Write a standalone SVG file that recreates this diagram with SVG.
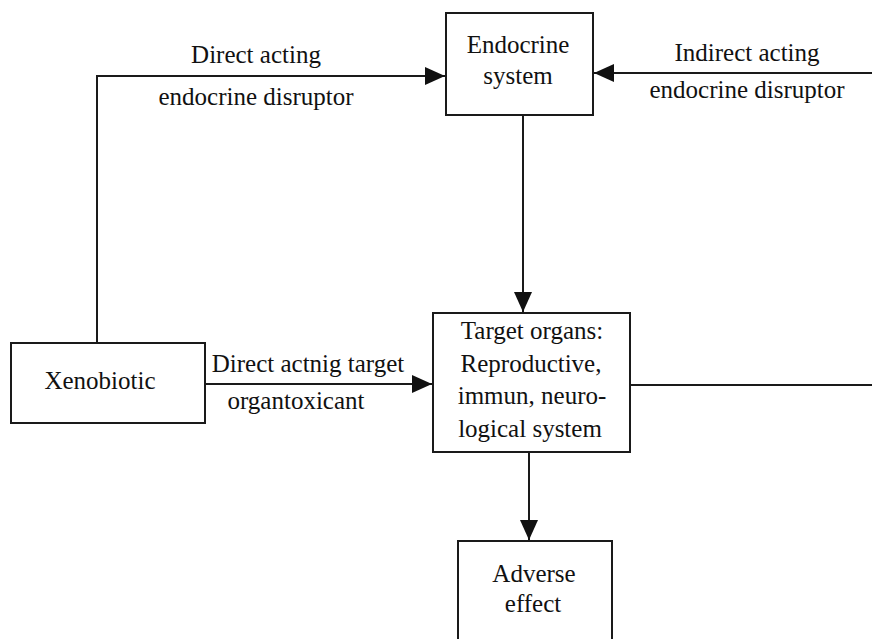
<svg xmlns="http://www.w3.org/2000/svg" width="872" height="639" viewBox="0 0 872 639">
<style>
.box{fill:#fff;stroke:#1a1a1a;stroke-width:2}
.con{fill:none;stroke:#1a1a1a;stroke-width:2}
text{font-family:"Liberation Serif","Times New Roman",serif;font-size:25px;fill:#111;text-anchor:middle}
</style>
<defs>
<marker id="ah" markerUnits="userSpaceOnUse" markerWidth="22" markerHeight="18" refX="20" refY="9" orient="auto">
<path d="M0,0 L20,9 L0,18 Z" fill="#111"/>
</marker>
</defs>
<rect width="872" height="639" fill="#fff"/>
<g id="connectors">
<path class="con" d="M97,343 V76 H445" marker-end="url(#ah)"/>
<path class="con" d="M872,73 H594" marker-end="url(#ah)"/>
<path class="con" d="M523,115 V312" marker-end="url(#ah)"/>
<path class="con" d="M205,384 H432" marker-end="url(#ah)"/>
<path class="con" d="M630,385 H872"/>
<path class="con" d="M529,452 V540" marker-end="url(#ah)"/>
</g>
<g id="labels">
<text x="256" y="63">Direct acting</text>
<text x="256" y="105">endocrine disruptor</text>
<text x="747" y="61">Indirect acting</text>
<text x="747" y="98">endocrine disruptor</text>
<text x="308" y="372">Direct actnig target</text>
<text x="296" y="409">organtoxicant</text>
</g>
<g id="endocrine">
<rect class="box" x="446" y="13" width="147" height="102"/>
<text x="518" y="53">Endocrine</text>
<text x="518" y="84">system</text>
</g>
<g id="xenobiotic">
<rect class="box" x="11" y="343" width="194" height="80"/>
<text x="100" y="389">Xenobiotic</text>
</g>
<g id="target">
<rect class="box" x="433" y="313" width="197" height="139"/>
<text x="532" y="339">Target organs:</text>
<text x="531" y="372">Reproductive,</text>
<text x="532" y="404">immun, neuro-</text>
<text x="530" y="437">logical system</text>
</g>
<g id="adverse">
<rect class="box" x="458" y="541" width="154" height="110"/>
<text x="534" y="582">Adverse</text>
<text x="533" y="612">effect</text>
</g>
</svg>
